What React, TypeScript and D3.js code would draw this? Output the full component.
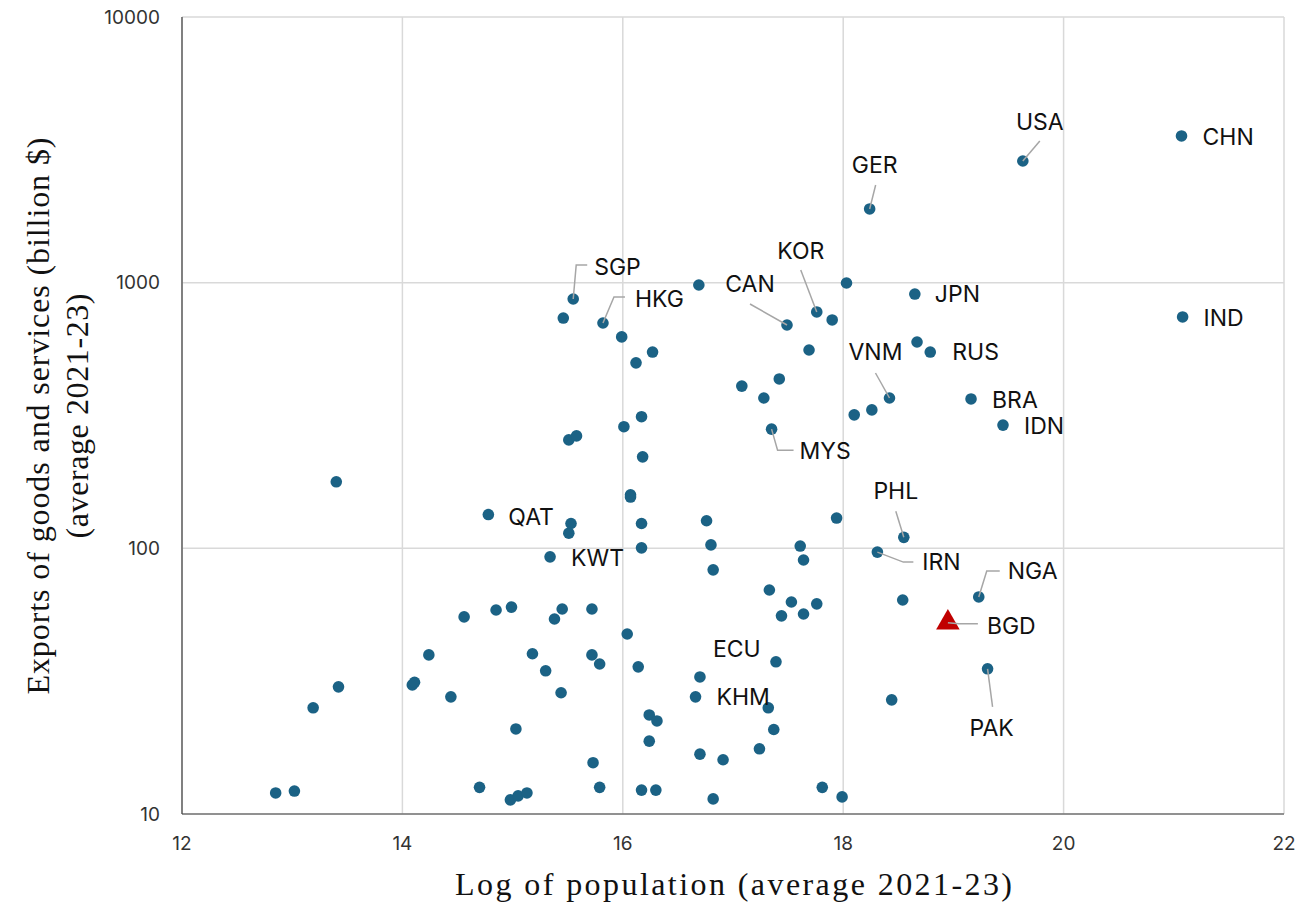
import React from 'react';
import * as d3 from 'd3';

// Exports vs log population, one dot per country (BGD highlighted)
const codes = [
  '', '', '', '', '', '', '', '', '', '',
  '', 'QAT', '', '', '', '', '', '', '', '',
  'KWT', '', '', '', '', '', '', '', '', 'SGP',
  'HKG', '', '', '', '', '', '', '', '', '',
  '', '', '', '', '', '', '', '', '', '',
  '', '', '', 'KHM', '', 'ECU', '', '', '', '',
  '', '', '', '', '', '', '', 'MYS', '', '',
  '', '', 'CAN', '', '', '', '', '', 'KOR', '',
  '', '', '', '', '', '', 'GER', '', 'IRN', 'VNM',
  '', '', 'PHL', 'JPN', '', 'RUS', 'BGD', 'BRA', 'NGA', 'PAK',
  'IDN', 'USA', 'CHN', 'IND',
];

const logPop = [
  12.85, 13.02, 13.19, 13.42, 13.40, 14.09, 14.11, 14.24, 14.44, 14.56,
  14.70, 14.78, 14.85, 14.99, 14.98, 15.05, 15.13, 15.03, 15.18, 15.30,
  15.34, 15.38, 15.45, 15.44, 15.51, 15.53, 15.51, 15.58, 15.46, 15.55,
  15.82, 15.72, 15.72, 15.79, 15.73, 15.79, 15.99, 16.01, 16.04, 16.07,
  16.07, 16.12, 16.14, 16.17, 16.18, 16.17, 16.17, 16.17, 16.24, 16.24,
  16.27, 16.30, 16.31, 16.66, 16.69, 16.70, 16.70, 16.76, 16.80, 16.82,
  16.82, 16.91, 17.08, 17.24, 17.28, 17.32, 17.33, 17.35, 17.37, 17.39,
  17.42, 17.44, 17.49, 17.53, 17.61, 17.64, 17.64, 17.69, 17.76, 17.76,
  17.81, 17.90, 17.94, 17.99, 18.03, 18.10, 18.24, 18.26, 18.31, 18.42,
  18.44, 18.54, 18.55, 18.65, 18.67, 18.79, 18.95, 19.16, 19.23, 19.31,
  19.45, 19.63, 21.07, 21.08,
];

const exportsBn = [
  12.0, 12.2, 25.1, 30.1, 178, 30.6, 31.3, 39.7, 27.6, 55.2,
  12.6, 134, 58.6, 60.1, 11.3, 11.7, 12.0, 20.9, 40.1, 34.6,
  92.9, 54.2, 59.1, 28.6, 114, 124, 256, 265, 736, 868,
  705, 59.1, 39.7, 36.7, 15.6, 12.6, 625, 287, 47.6, 159,
  156, 499, 35.8, 313, 221, 124, 100.4, 12.3, 23.6, 18.8,
  548, 12.3, 22.4, 27.6, 980, 32.8, 16.8, 127, 103, 83,
  11.4, 16.0, 408, 17.6, 368, 25.1, 69.7, 281, 20.8, 37.4,
  434, 55.7, 693, 62.8, 102, 90.4, 56.6, 558, 776, 61.8,
  12.6, 724, 130, 11.6, 997, 318, 1894, 332, 96.8, 368,
  26.9, 63.9, 110, 906, 598, 548, 52.5, 365, 65.6, 35.2,
  291, 2871, 3566, 743,
];

const highlight = 'BGD';
const xTicks = [12, 14, 16, 18, 20, 22];
const yTicks = [10, 100, 1000, 10000];

// label placement relative to the dot (px): text offset, anchor, leader polyline
const labelPos: Record<string, { tx: number; ty: number; anchor: string; leader?: number[][] }> = {
  USA: { tx: 17, ty: -39, anchor: 'middle', leader: [[0, 0], [17, -20]] },
  CHN: { tx: 21, ty: 1, anchor: 'start' },
  IND: { tx: 21, ty: 1, anchor: 'start' },
  GER: { tx: 5, ty: -44, anchor: 'middle', leader: [[0, 0], [6, -24]] },
  SGP: { tx: 21, ty: -32, anchor: 'start', leader: [[0, 0], [3, -34], [14, -34]] },
  HKG: { tx: 32, ty: -24, anchor: 'start', leader: [[0, 0], [11, -26], [22, -26]] },
  KOR: { tx: -16, ty: -61, anchor: 'middle', leader: [[0, 0], [-16, -42]] },
  CAN: { tx: -37, ty: -41, anchor: 'middle', leader: [[0, 0], [-37, -21]] },
  JPN: { tx: 20, ty: 0, anchor: 'start' },
  RUS: { tx: 22, ty: 0, anchor: 'start' },
  VNM: { tx: -14, ty: -46, anchor: 'middle', leader: [[0, 0], [-14, -25]] },
  BRA: { tx: 21, ty: 1, anchor: 'start' },
  IDN: { tx: 21, ty: 1, anchor: 'start' },
  MYS: { tx: 28, ty: 22, anchor: 'start', leader: [[0, 0], [6, 21], [22, 21]] },
  QAT: { tx: 20, ty: 2, anchor: 'start' },
  KWT: { tx: 21, ty: 1, anchor: 'start' },
  PHL: { tx: -8, ty: -46, anchor: 'middle', leader: [[0, 0], [-8, -26]] },
  IRN: { tx: 45, ty: 10, anchor: 'start', leader: [[0, 0], [26, 10], [36, 10]] },
  NGA: { tx: 29, ty: -26, anchor: 'start', leader: [[0, 0], [8, -26], [21, -26]] },
  BGD: { tx: 39, ty: 3, anchor: 'start', leader: [[0, 0], [11, 1], [30, 1]] },
  PAK: { tx: 4, ty: 59, anchor: 'middle', leader: [[0, 0], [5, 38]] },
  ECU: { tx: 13, ty: -28, anchor: 'start' },
  KHM: { tx: 21, ty: 0, anchor: 'start' },
};

export default function App() {
  const W = 1299;
  const H = 903;
  const left = 182, right = 1284, top = 17, bottom = 814;

  const x = d3.scaleLinear().domain([12, 22]).range([left, right]);
  const y = d3.scaleLog().domain([10, 10000]).range([bottom, top]);

  const points = logPop.map((lp, i) => ({ code: codes[i], lp, ex: exportsBn[i] }));
  const tri = d3.symbol().type(d3.symbolTriangle).size(240)();
  const line = d3.line();

  const grid = '#d9d9d9';
  const dotColor = '#1b6285';
  const sans = 'Inter, "Open Sans", sans-serif';
  const serif = '"Liberation Serif", "Times New Roman", serif';

  const labelled = points.filter((p) => p.code && labelPos[p.code]);

  return (
    <svg width={W} height={H} style={{ position: 'absolute', left: 0, top: 0, background: '#fff' }}>
      {/* gridlines */}
      {xTicks.map((t) => (
        <line key={'gx' + t} x1={x(t)} x2={x(t)} y1={top} y2={bottom} stroke={grid} strokeWidth={1.5} />
      ))}
      {yTicks.map((t) => (
        <line key={'gy' + t} x1={left} x2={right} y1={y(t)} y2={y(t)} stroke={grid} strokeWidth={1.5} />
      ))}
      {/* axes */}
      <line x1={left} x2={left} y1={top} y2={bottom} stroke="#404040" strokeWidth={1.2} />
      <line x1={left} x2={right} y1={bottom} y2={bottom} stroke="#404040" strokeWidth={1.2} />

      {xTicks.map((t) => (
        <text key={'tx' + t} x={x(t)} y={850} textAnchor="middle" fontFamily={sans} fontSize={19} fill="#333">{t}</text>
      ))}
      {yTicks.map((t) => (
        <text key={'ty' + t} x={160} y={y(t)} textAnchor="end" dominantBaseline="central" fontFamily={sans} fontSize={19} fill="#333">{t}</text>
      ))}

      {/* dots */}
      {points.filter((p) => p.code !== highlight).map((p, i) => (
        <circle key={'c' + i} cx={x(p.lp)} cy={y(p.ex)} r={5.8} fill={dotColor} />
      ))}
      {points.filter((p) => p.code === highlight).map((p) => (
        <path key="hl" d={tri || ''} transform={`translate(${x(p.lp)},${y(p.ex)})`} fill="#c00000" />
      ))}

      {/* leaders drawn over the dots, like the reference */}
      {labelled.filter((p) => labelPos[p.code].leader).map((p) => {
        const lp = labelPos[p.code];
        const px = x(p.lp), py = y(p.ex);
        const pts = lp.leader!.map(([dx, dy]) => [px + dx, py + dy] as [number, number]);
        return <path key={'lo' + p.code} d={line(pts) || ''} fill="none" stroke="#a6a6a6" strokeWidth={1.5} />;
      })}

      {/* labels */}
      {labelled.map((p) => {
        const lp = labelPos[p.code];
        return (
          <text key={'t' + p.code} x={x(p.lp) + lp.tx} y={y(p.ex) + lp.ty} textAnchor={lp.anchor}
            dominantBaseline="central" fontFamily={sans} fontSize={23} fill="#111">{p.code}</text>
        );
      })}

      {/* axis titles */}
      <text x={455} y={895} textLength={557} lengthAdjust="spacing" fontFamily={serif} fontSize={32} fill="#111">
        Log of population (average 2021-23)
      </text>
      <text transform="translate(49,416) rotate(-90)" textAnchor="middle" textLength={557} lengthAdjust="spacing"
        fontFamily={serif} fontSize={32} fill="#111">
        Exports of goods and services (billion $)
      </text>
      <text transform="translate(88,416) rotate(-90)" textAnchor="middle" textLength={245} lengthAdjust="spacing"
        fontFamily={serif} fontSize={32} fill="#111">
        (average 2021-23)
      </text>
    </svg>
  );
}
